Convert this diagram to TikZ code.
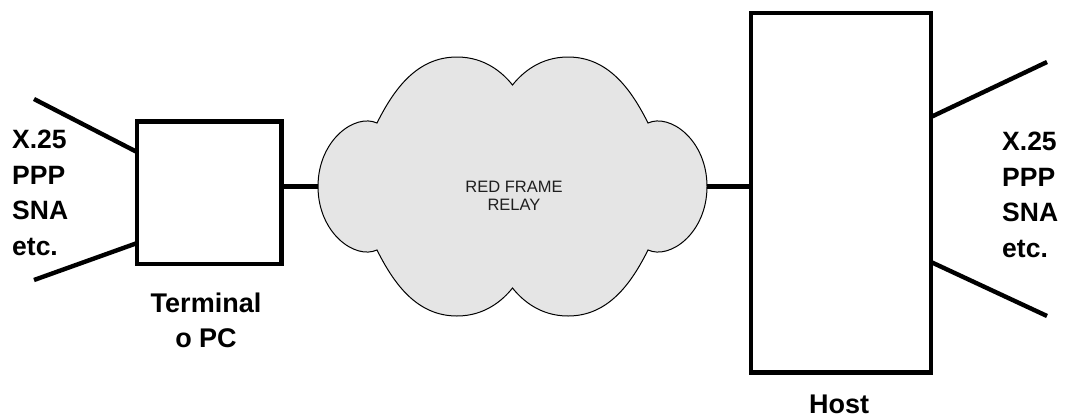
\documentclass[tikz,border=0pt]{standalone}
\usepackage{fontspec}
\setmainfont{Liberation Sans}
\usetikzlibrary{calc}
\definecolor{cloudgray}{HTML}{E5E5E5}
\begin{document}
\begin{tikzpicture}[x=1pt,y=-1pt,
  box/.style={draw=black,line width=4.4pt,inner sep=0pt,outer sep=0pt},
  wire/.style={draw=black,line width=4.4pt},
  lbl/.style={font=\bfseries\fontsize{26.5}{35.5}\selectfont,inner sep=0pt,align=left},
  caption/.style={font=\bfseries\fontsize{27}{35}\selectfont,inner sep=0pt,align=center},
  cloudline/.style={fill=cloudgray,draw=black,line width=1pt}]
\useasboundingbox (0,0) rectangle (1067,418);

% cloud outline, symmetric about its centre
\begin{scope}[shift={(512.5,186.5)}]
\path[cloudline] (-135.5,-63.5)
  .. controls (-118.5,-97.5) and (-95.5,-129.5) .. (-55.5,-129.5)
  .. controls (-27.5,-129.5) and (-9.5,-113.5) .. (0,-101.5)
  .. controls (9.5,-113.5) and (27.5,-129.5) .. (55.5,-129.5)
  .. controls (95.5,-129.5) and (118.5,-97.5) .. (135.5,-63.5)
  .. controls (157.5,-73.5) and (194.5,-46.5) .. (194.5,0)
  .. controls (194.5,46.5) and (157.5,73.5) .. (135.5,63.5)
  .. controls (118.5,97.5) and (95.5,129.5) .. (55.5,129.5)
  .. controls (27.5,129.5) and (9.5,113.5) .. (0,101.5)
  .. controls (-9.5,113.5) and (-27.5,129.5) .. (-55.5,129.5)
  .. controls (-95.5,129.5) and (-118.5,97.5) .. (-135.5,63.5)
  .. controls (-157.5,73.5) and (-194.5,46.5) .. (-194.5,0)
  .. controls (-194.5,-46.5) and (-157.5,-73.5) .. (-135.5,-63.5) -- cycle;
\end{scope}
\node[inner sep=0pt,outer sep=0pt,minimum width=389pt,minimum height=259pt] (cloud) at (512.5,186.5) {};
\node[font=\fontsize{16.5}{18.3}\selectfont,align=center,text=black!88,inner sep=0pt] (cloudtxt) at (514,196) {RED FRAME\\RELAY};

% terminal and host
\node[box,minimum width=144.3pt,minimum height=142.7pt] (term) at (209.2,192.7) {};
\node[box,minimum width=179.5pt,minimum height=359.3pt] (host) at (841,192.9) {};

% links to the cloud
\draw[wire] (cloud.west) -- (cloud.west -| term.east);
\draw[wire] (cloud.east) -- (cloud.east -| host.west);

% protocol lines
\coordinate (lt) at (34,99);
\coordinate (lb) at (34,280);
\coordinate (rt) at (1047,62);
\coordinate (rb) at (1047,316);
\draw[wire] (lt) -- ($(term.north west)!0.215!(term.south west)$);
\draw[wire] (lb) -- ($(term.north west)!0.853!(term.south west)$);
\draw[wire] ($(host.north east)!0.289!(host.south east)$) -- (rt);
\draw[wire] ($(host.north east)!0.692!(host.south east)$) -- (rb);

% labels
\node[lbl,anchor=north west] (protoL) at (12,130) {X.25\\PPP\\SNA\\etc.};
\node[lbl,anchor=north west] (protoR) at (1002,132) {X.25\\PPP\\SNA\\etc.};
\node[caption,anchor=north] (termlbl) at (206,292.5) {Terminal\\o PC};
\node[caption,anchor=north] (hostlbl) at (839,395) {Host};
\end{tikzpicture}
\end{document}
